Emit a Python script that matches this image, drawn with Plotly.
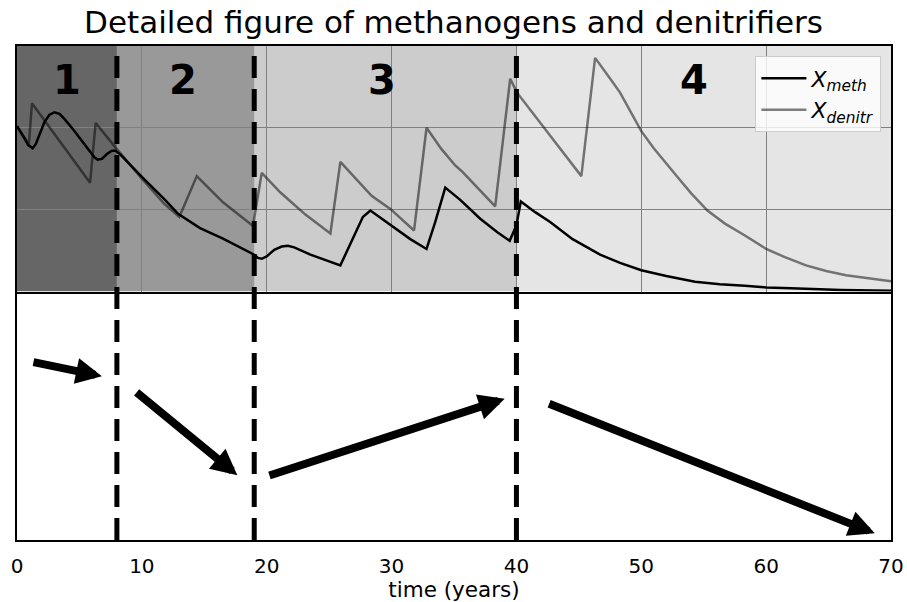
import plotly.graph_objects as go
from plotly.subplots import make_subplots

# --- data -------------------------------------------------------------
t_meth = [0.0, 0.3, 0.6, 0.9, 1.25, 1.5, 1.8, 2.2, 2.6, 3.0, 3.4, 3.8, 4.5, 5.2,
          5.8, 6.2, 6.45, 6.8, 7.2, 7.6, 7.9, 8.3,
          10.0, 11.8, 12.9, 14.66, 16.5, 19.0, 19.3, 19.6, 20.0, 20.6, 21.2, 21.7,
          22.2, 23.5, 25.9, 26.5, 27.3, 27.7, 28.3, 30.0, 31.5, 32.8, 33.5, 34.3,
          35.5, 37.1, 38.5, 39.46, 40.0, 40.35, 41.5, 42.7, 44.5, 46.7, 48.3,
          50.0, 52.0, 54.3, 56.3, 58.3, 60.0, 62.0, 66.0, 70.0]
x_meth = [2.02, 1.95, 1.87, 1.79, 1.75, 1.80, 1.92, 2.07, 2.16, 2.19, 2.17, 2.11,
          1.98, 1.84, 1.72, 1.64, 1.61, 1.62, 1.68, 1.72, 1.72, 1.67,
          1.40, 1.13, 0.95, 0.775, 0.645, 0.45, 0.41, 0.40, 0.43, 0.51, 0.55, 0.56,
          0.54, 0.45, 0.32, 0.52, 0.79, 0.91, 0.99, 0.80, 0.64, 0.52, 0.85, 1.27,
          1.12, 0.89, 0.72, 0.62, 0.81, 1.10, 0.97, 0.85, 0.64, 0.45, 0.35,
          0.26, 0.19, 0.12, 0.09, 0.07, 0.05, 0.04, 0.02, 0.01]

t_denitr = [0.0, 0.95, 1.2, 5.85, 6.3, 8.0, 10.0, 11.8, 13.0, 14.4, 16.5, 18.9,
            19.6, 21.1, 23.1, 25.1, 25.9, 28.4, 29.9, 31.8, 32.8, 34.0, 35.1,
            35.7, 38.3, 39.5, 40.05, 42.7, 43.4, 45.2, 46.3, 47.0, 47.7, 48.3,
            49.1, 50.0, 51.0, 52.0, 52.9, 54.0, 55.3, 56.7, 58.3, 60.0, 61.5,
            63.2, 64.8, 66.4, 68.2, 70.0]
x_denitr = [2.02, 1.80, 2.30, 1.33, 2.06, 1.74, 1.38, 1.07, 0.91, 1.41, 1.09, 0.80,
            1.45, 1.21, 0.94, 0.71, 1.585, 1.17, 1.01, 0.746, 2.0, 1.74, 1.54,
            1.46, 1.04, 2.60, 2.43, 1.90, 1.76, 1.41, 2.855, 2.70, 2.56, 2.43,
            2.20, 1.96, 1.75, 1.56, 1.40, 1.20, 0.99, 0.83, 0.685, 0.52, 0.42,
            0.32, 0.25, 0.20, 0.16, 0.125]

# phase boundaries (years) and phase shading
phase_edges = [0, 8, 19, 40, 70]
phase_fill = ["rgba(0,0,0,0.6)", "rgba(0,0,0,0.4)", "rgba(0,0,0,0.2)", "rgba(0,0,0,0.1)"]
phase_names = ["1", "2", "3", "4"]
phase_label_x = [4.0, 13.3, 29.2, 54.2]
phase_label_y = 2.58
switch_times = [8, 19, 40]

# trend arrows in the lower panel: (tail_t, tail_y, tip_t, tip_y)
arrow_tail_t = [1.2, 9.46, 20.1, 42.5]
arrow_tail_y = [0.726, 0.606, 0.261, 0.557]
arrow_tip_t = [6.8, 17.65, 39.06, 68.7]
arrow_tip_y = [0.667, 0.264, 0.575, 0.027]

x_ticks = [0, 10, 20, 30, 40, 50, 60, 70]

FONT = "DejaVu Sans"

fig = make_subplots(rows=2, cols=1, shared_xaxes=False, vertical_spacing=0.006)

fig.add_trace(go.Scatter(x=t_meth, y=x_meth, mode="lines",
                         line=dict(color="black", width=2.5),
                         name="<i>X</i><sub><i>meth</i></sub>"), row=1, col=1)
fig.add_trace(go.Scatter(x=t_denitr, y=x_denitr, mode="lines",
                         line=dict(color="rgba(0,0,0,0.5)", width=2.5),
                         name="<i>X</i><sub><i>denitr</i></sub>"), row=1, col=1)

shapes = []
for i in range(4):
    shapes.append(dict(type="rect", xref="x", yref="y",
                       x0=phase_edges[i], x1=phase_edges[i + 1], y0=0, y1=3,
                       fillcolor=phase_fill[i], line=dict(width=0), layer="below"))
for ts in switch_times:
    shapes.append(dict(type="line", xref="x", yref="paper", x0=ts, x1=ts, y0=0, y1=1,
                       line=dict(color="black", width=5, dash="22px,11px"),
                       layer="above"))

annotations = []
for name, lx in zip(phase_names, phase_label_x):
    annotations.append(dict(x=lx, y=phase_label_y, xref="x", yref="y",
                            text=f"<b>{name}</b>", showarrow=False,
                            font=dict(family=FONT, size=40, color="black")))
for tx, ty, hx, hy in zip(arrow_tail_t, arrow_tail_y, arrow_tip_t, arrow_tip_y):
    annotations.append(dict(x=hx, y=hy, ax=tx, ay=ty, xref="x2", yref="y2",
                            axref="x2", ayref="y2", text="", showarrow=True,
                            arrowhead=2, arrowsize=0.65, arrowwidth=8,
                            arrowcolor="black", standoff=0, startstandoff=0))

fig.update_layout(
    width=907, height=602,
    margin=dict(l=17, r=16, t=46, b=62, autoexpand=False),
    paper_bgcolor="white", plot_bgcolor="white",
    font=dict(family=FONT, size=20, color="black"),
    title=dict(text="Detailed figure of methanogens and denitrifiers",
               x=0.5, xanchor="center", y=1 - 22 / 602, yanchor="middle",
               font=dict(family=FONT, size=31, color="black")),
    shapes=shapes, annotations=annotations,
    legend=dict(x=0.989, y=0.979, xanchor="right", yanchor="top",
                bgcolor="rgba(255,255,255,0.8)", bordercolor="#cccccc", borderwidth=1,
                itemwidth=45,
                font=dict(family=FONT, size=22, color="black")),
    showlegend=True,
)

fig.update_xaxes(range=[0, 70], row=1, col=1, showticklabels=False, ticks="",
                 showgrid=True, gridcolor="#808080", gridwidth=1, dtick=10, tick0=0,
                 zeroline=False, showline=True, mirror=True, linecolor="black", linewidth=1.5)
fig.update_yaxes(range=[0, 3], row=1, col=1, showticklabels=False, ticks="",
                 showgrid=True, gridcolor="#808080", gridwidth=1, dtick=1, tick0=0,
                 zeroline=False, showline=True, mirror=True, linecolor="black", linewidth=1.5)
fig.update_xaxes(range=[0, 70], row=2, col=1, tickvals=x_ticks, ticks="",
                 automargin=False, ticklabelstandoff=7,
                 showgrid=False, zeroline=False, showline=True, mirror=True,
                 linecolor="black", linewidth=1.5,
                 tickfont=dict(family=FONT, size=20, color="black"),
                 title=dict(text="time (years)", standoff=10,
                            font=dict(family=FONT, size=21.5, color="black")))
fig.update_yaxes(range=[0, 1], row=2, col=1, showticklabels=False, ticks="",
                 showgrid=False, zeroline=False, showline=True, mirror=True,
                 linecolor="black", linewidth=1.5)

fig.write_html("out.html")
